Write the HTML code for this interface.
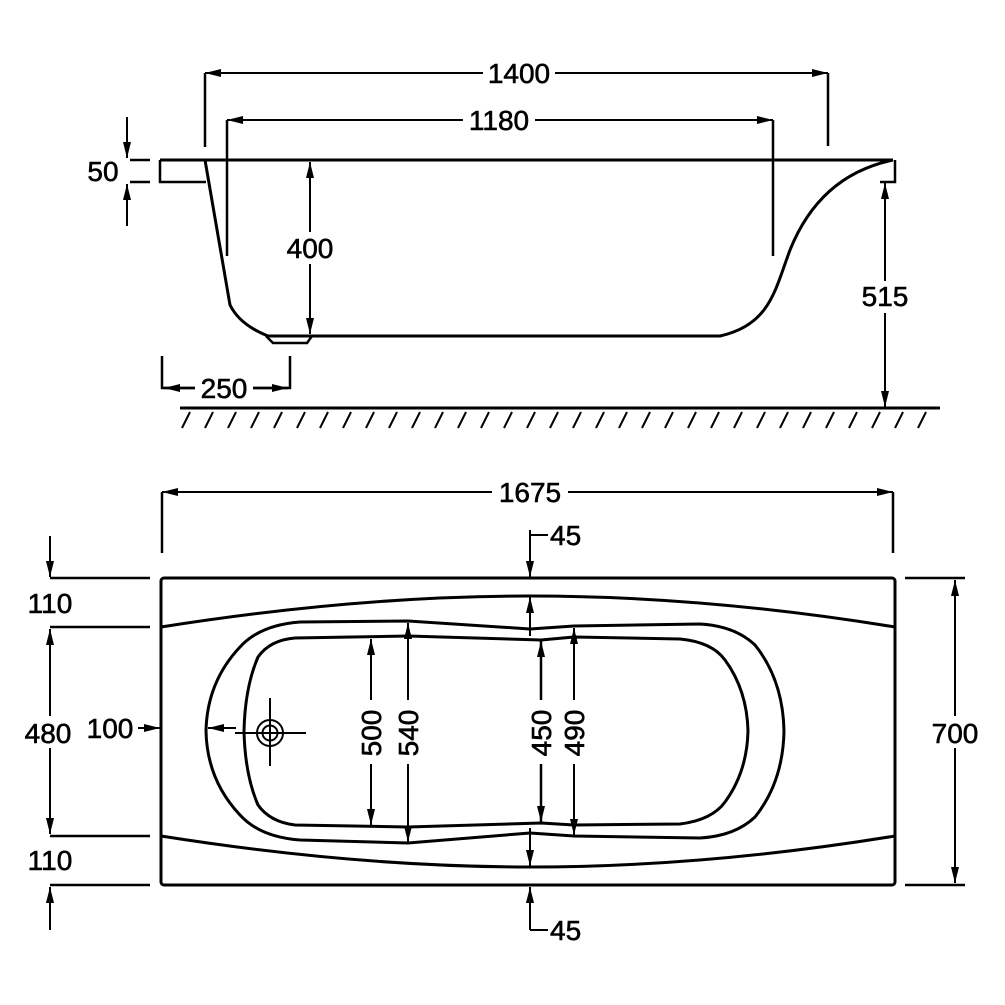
<!DOCTYPE html>
<html><head><meta charset="utf-8"><style>
html,body{margin:0;padding:0;background:#fff}
svg{display:block}
text{font-family:"Liberation Sans",sans-serif;font-size:28px;fill:#000;stroke:#000;stroke-width:0.6}
</style></head><body>
<svg width="1005" height="1005" viewBox="0 0 1005 1005" xmlns="http://www.w3.org/2000/svg">
<defs>
<marker id="a" viewBox="0 0 16 8" refX="16" refY="4" markerWidth="16" markerHeight="8" markerUnits="userSpaceOnUse" orient="auto-start-reverse">
<path d="M0 0 L16 4 L0 8 Z" fill="#000"/></marker>
</defs>
<g fill="none" stroke="#000" stroke-width="2.5">
<!-- TOP VIEW -->
<line x1="205" y1="73" x2="828" y2="73" marker-start="url(#a)" marker-end="url(#a)" stroke-width="2"/>
<line x1="205" y1="73" x2="205" y2="147"/>
<line x1="828" y1="73" x2="828" y2="146"/>
<line x1="227" y1="120" x2="773" y2="120" marker-start="url(#a)" marker-end="url(#a)" stroke-width="2"/>
<line x1="227" y1="120" x2="227" y2="256"/>
<line x1="773" y1="120" x2="773" y2="256"/>
<line x1="160" y1="160" x2="893" y2="160" stroke-width="3"/>
<path d="M206 182 H160 V160"/>
<path d="M880 182 H895 V160"/>
<path d="M205 160 L230 305 Q240 325 268 336 L720 336 C770 325 775 290 790 250 C810 200 845 170 893 160" stroke-width="3"/>
<path d="M266 336 L273 343 L307 343 L312 336"/>
<line x1="310" y1="162" x2="310" y2="334" marker-start="url(#a)" marker-end="url(#a)" stroke-width="2"/>
<line x1="130" y1="160" x2="150" y2="160"/>
<line x1="130" y1="182" x2="150" y2="182"/>
<line x1="127" y1="117" x2="127" y2="158" marker-end="url(#a)" stroke-width="2"/>
<line x1="127" y1="226" x2="127" y2="184" marker-end="url(#a)" stroke-width="2"/>
<line x1="885" y1="183" x2="885" y2="407" marker-start="url(#a)" marker-end="url(#a)" stroke-width="2"/>
<path d="M162 356 V388 H290 V356"/>
<line x1="200" y1="388" x2="164" y2="388" marker-end="url(#a)"/>
<line x1="252" y1="388" x2="288" y2="388" marker-end="url(#a)"/>
<line x1="180" y1="408" x2="940" y2="408" stroke-width="3"/>
<g stroke-width="2">
<path d="M190 412 l-8 16 M213 412 l-8 16 M236 412 l-8 16 M259 412 l-8 16 M282 412 l-8 16 M305 412 l-8 16 M328 412 l-8 16 M351 412 l-8 16 M374 412 l-8 16 M397 412 l-8 16 M420 412 l-8 16 M443 412 l-8 16 M466 412 l-8 16 M489 412 l-8 16 M512 412 l-8 16 M535 412 l-8 16 M558 412 l-8 16 M581 412 l-8 16 M604 412 l-8 16 M627 412 l-8 16 M650 412 l-8 16 M673 412 l-8 16 M696 412 l-8 16 M719 412 l-8 16 M742 412 l-8 16 M765 412 l-8 16 M788 412 l-8 16 M811 412 l-8 16 M834 412 l-8 16 M857 412 l-8 16 M880 412 l-8 16 M903 412 l-8 16 M926 412 l-8 16"/>
</g>

<!-- PLAN VIEW -->
<line x1="162" y1="492" x2="893" y2="492" marker-start="url(#a)" marker-end="url(#a)" stroke-width="2"/>
<line x1="162" y1="492" x2="162" y2="553"/>
<line x1="893" y1="492" x2="893" y2="553"/>
<rect x="161" y="578" width="734" height="307" rx="3" stroke-width="3"/>
<path d="M161 627 C300 605 420 596 530 596 C640 596 760 605 895 627" stroke-width="3"/>
<path d="M161 836 C300 858 420 867 530 867 C640 867 760 858 895 836" stroke-width="3"/>
<path d="M408 621 L530 629 L574 626 L700 624 Q735 626 755 645 Q783 680 784 731 Q783 782 755 817 Q735 836 700 838 L574 836 L530 833 L408 843 L300 840 Q260 837 240 815 Q207 780 206 731 Q207 682 240 647 Q260 625 300 622 Z" stroke-width="3" stroke-linejoin="round"/>
<path d="M408 636 L541 640 L574 637 L680 639 Q712 642 725 660 Q747 690 748 731 Q747 772 725 802 Q712 820 680 824 L574 825 L541 823 L408 827 L295 825 Q270 822 258 805 Q245 775 244 731 Q245 687 258 657 Q270 640 295 638 Z" stroke-width="3" stroke-linejoin="round"/>
<circle cx="270" cy="733" r="13" stroke-width="2"/>
<circle cx="270" cy="733" r="7.5" stroke-width="2"/>
<line x1="235" y1="733" x2="306" y2="733" stroke-width="2"/>
<line x1="270" y1="698" x2="270" y2="766" stroke-width="2"/>
<line x1="236" y1="728" x2="208" y2="728" marker-end="url(#a)" stroke-width="2"/>
<line x1="138" y1="728" x2="160" y2="728" marker-end="url(#a)" stroke-width="2"/>
<line x1="371" y1="639" x2="371" y2="825" marker-start="url(#a)" marker-end="url(#a)" stroke-width="2"/>
<line x1="408" y1="623" x2="408" y2="842" marker-start="url(#a)" marker-end="url(#a)" stroke-width="2"/>
<line x1="541" y1="641" x2="541" y2="822" marker-start="url(#a)" marker-end="url(#a)" stroke-width="2.5"/>
<line x1="574" y1="628" x2="574" y2="835" marker-start="url(#a)" marker-end="url(#a)" stroke-width="2"/>
<line x1="530" y1="530" x2="530" y2="577" marker-end="url(#a)" stroke-width="2"/>
<line x1="530" y1="535" x2="548" y2="535" stroke-width="2"/>
<line x1="530" y1="636" x2="530" y2="597" marker-end="url(#a)" stroke-width="2"/>
<line x1="530" y1="930" x2="530" y2="887" marker-end="url(#a)" stroke-width="2"/>
<line x1="530" y1="930" x2="548" y2="930" stroke-width="2"/>
<line x1="530" y1="828" x2="530" y2="866" marker-end="url(#a)" stroke-width="2"/>
<line x1="50" y1="578" x2="150" y2="578"/>
<line x1="50" y1="627" x2="150" y2="627"/>
<line x1="50" y1="836" x2="150" y2="836"/>
<line x1="50" y1="885" x2="150" y2="885"/>
<line x1="50" y1="536" x2="50" y2="577" marker-end="url(#a)" stroke-width="2"/>
<line x1="50" y1="629" x2="50" y2="834" marker-start="url(#a)" marker-end="url(#a)" stroke-width="2"/>
<line x1="50" y1="930" x2="50" y2="887" marker-end="url(#a)" stroke-width="2"/>
<line x1="905" y1="578" x2="965" y2="578"/>
<line x1="905" y1="885" x2="965" y2="885"/>
<line x1="955" y1="580" x2="955" y2="883" marker-start="url(#a)" marker-end="url(#a)" stroke-width="2"/>
</g>
<g fill="#fff" stroke="none">
<rect x="483" y="58" width="72" height="30"/>
<rect x="463" y="105" width="72" height="30"/>
<rect x="283" y="232" width="55" height="32"/>
<rect x="857" y="281" width="56" height="32"/>
<rect x="195" y="373" width="58" height="30"/>
<rect x="492" y="477" width="76" height="30"/>
<rect x="355" y="700" width="32" height="64"/>
<rect x="392" y="700" width="32" height="64"/>
<rect x="525" y="700" width="32" height="64"/>
<rect x="558" y="700" width="32" height="64"/>
<rect x="20" y="716" width="60" height="32"/>
<rect x="925" y="716" width="60" height="32"/>
</g>
<text x="519" y="83" text-anchor="middle">1400</text>
<text x="499" y="130" text-anchor="middle">1180</text>
<text x="103" y="181" text-anchor="middle">50</text>
<text x="310" y="258" text-anchor="middle">400</text>
<text x="885" y="306" text-anchor="middle">515</text>
<text x="224" y="398" text-anchor="middle">250</text>
<text x="530" y="502" text-anchor="middle">1675</text>
<text x="550" y="545">45</text>
<text x="550" y="940">45</text>
<text x="50" y="613" text-anchor="middle">110</text>
<text x="48" y="743" text-anchor="middle">480</text>
<text x="50" y="870" text-anchor="middle">110</text>
<text x="110" y="738" text-anchor="middle">100</text>
<text x="955" y="743" text-anchor="middle">700</text>
<text transform="translate(381,733) rotate(-90)" text-anchor="middle">500</text>
<text transform="translate(418,733) rotate(-90)" text-anchor="middle">540</text>
<text transform="translate(551,733) rotate(-90)" text-anchor="middle">450</text>
<text transform="translate(584,733) rotate(-90)" text-anchor="middle">490</text>
</svg>
</body></html>
